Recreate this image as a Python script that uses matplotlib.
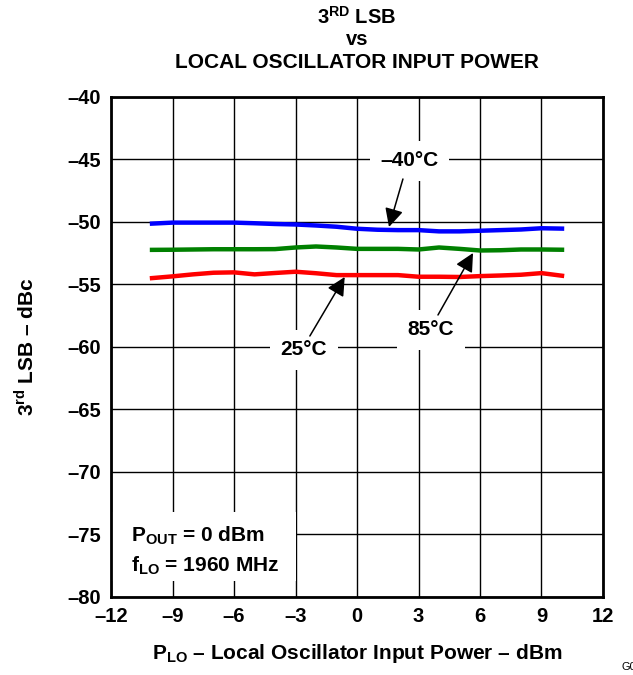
import numpy as np
import matplotlib
matplotlib.use("Agg")
import matplotlib.pyplot as plt
from matplotlib.patches import Rectangle

plt.rcParams['font.family'] = ['Liberation Sans', 'DejaVu Sans']
plt.rcParams['font.weight'] = 'bold'
plt.rcParams['mathtext.fontset'] = 'custom'
plt.rcParams['mathtext.rm'] = 'Liberation Sans:bold'
plt.rcParams['mathtext.bf'] = 'Liberation Sans:bold'

# LO power sweep, dBm
p_lo = [-10, -9, -8, -7, -6, -5, -4, -3, -2, -1, 0, 1, 2, 3, 4, 5, 6, 7, 8, 9, 10]

# 3rd LSB, dBc
lsb_m40 = [-50.13, -50.05, -50.05, -50.05, -50.05, -50.1, -50.16, -50.2, -50.28, -50.38,
           -50.54, -50.62, -50.65, -50.65, -50.75, -50.75, -50.7, -50.65, -50.6, -50.5, -50.53]
lsb_85 = [-52.23, -52.22, -52.2, -52.18, -52.18, -52.18, -52.17, -52.04, -51.96, -52.04,
          -52.15, -52.15, -52.15, -52.2, -52.04, -52.15, -52.28, -52.26, -52.2, -52.2, -52.22]
lsb_25 = [-54.49, -54.35, -54.19, -54.06, -54.03, -54.19, -54.08, -53.98, -54.1, -54.25,
          -54.25, -54.25, -54.25, -54.38, -54.38, -54.4, -54.33, -54.28, -54.22, -54.09, -54.3]

xticks = [-12, -9, -6, -3, 0, 3, 6, 9, 12]
yticks = [-40, -45, -50, -55, -60, -65, -70, -75, -80]

DASH = '\u2013'
FS = 15

fig = plt.figure(figsize=(6.33, 6.75), dpi=100)
ax = fig.add_axes([0.1754, 0.1156, 0.7772, 0.7407])

ax.set_xlim(-12, 12)
ax.set_ylim(-80, -40)
ax.set_xticks(xticks)
ax.set_yticks(yticks)
ax.set_xticklabels([str(t).replace('-', DASH) for t in xticks])
ax.set_yticklabels([str(t).replace('-', DASH) for t in yticks])
ax.tick_params(length=0, labelsize=14.5, pad=7)
for lab in ax.get_xticklabels() + ax.get_yticklabels():
    lab.set_fontweight('bold')
ax.grid(True, color='black', lw=1)
for s in ax.spines.values():
    s.set_linewidth(2)

ax.plot(p_lo, lsb_m40, color='#0000ff', lw=3.2, zorder=3)
ax.plot(p_lo, lsb_85, color='#008000', lw=3.2, zorder=3)
ax.plot(p_lo, lsb_25, color='#ff0000', lw=3.2, zorder=3)

arrow = dict(arrowstyle='-|>', mutation_scale=28, color='black', lw=1.1, shrinkA=0, shrinkB=0)
box = dict(boxstyle='square,pad=0.5', fc='white', ec='none')
ax.text(2.54, -45.1, DASH + '40\u00b0C', ha='center', va='center', fontsize=FS,
        fontweight='bold', bbox=box, zorder=4)
ax.annotate('', xy=(1.56, -50.4), xytext=(2.24, -46.56), arrowprops=arrow, zorder=4)
ax.text(3.61, -58.64, '85\u00b0C', ha='center', va='center', fontsize=FS,
        fontweight='bold', bbox=box, zorder=4)
ax.annotate('', xy=(5.66, -52.48), xytext=(3.95, -57.44), arrowprops=arrow, zorder=4)
ax.text(-2.59, -60.24, '25\u00b0C', ha='center', va='center', fontsize=FS,
        fontweight='bold', bbox=box, zorder=4)
ax.annotate('', xy=(-0.6, -54.4), xytext=(-2.3, -59.12), arrowprops=arrow, zorder=4)

# conditions box in lower left
ax.add_patch(Rectangle((-12, -78.7), 9.0, 5.5, fc='white', ec='none', zorder=2.5))
ax.text(-11.05, -75.1, r'P$_{\mathregular{OUT}}$ = 0 dBm', ha='left', va='center',
        fontsize=FS, fontweight='bold', zorder=4)
ax.text(-11.05, -77.5, r'f$_{\mathregular{LO}}$ = 1960 MHz', ha='left', va='center',
        fontsize=FS, fontweight='bold', zorder=4)

ax.set_xlabel(r'P$_{\mathregular{LO}}$ ' + DASH + ' Local Oscillator Input Power ' + DASH + ' dBm',
              fontsize=FS, fontweight='bold', labelpad=12)
ax.set_ylabel(r'3$^{\mathregular{rd}}$ LSB ' + DASH + ' dBc',
              fontsize=FS, fontweight='bold', labelpad=22)

fig.text(0.564, 0.975, r'3$^{\mathregular{RD}}$ LSB', ha='center', va='center', fontsize=14.5, fontweight='bold')
fig.text(0.564, 0.941, 'vs', ha='center', va='center', fontsize=14.5, fontweight='bold')
fig.text(0.564, 0.908, 'LOCAL OSCILLATOR INPUT POWER', ha='center', va='center',
         fontsize=FS, fontweight='bold')
fig.text(0.982, 0.004, 'G004', ha='left', va='bottom', fontsize=8, fontweight='normal')

fig.savefig('out.png', dpi=100)
